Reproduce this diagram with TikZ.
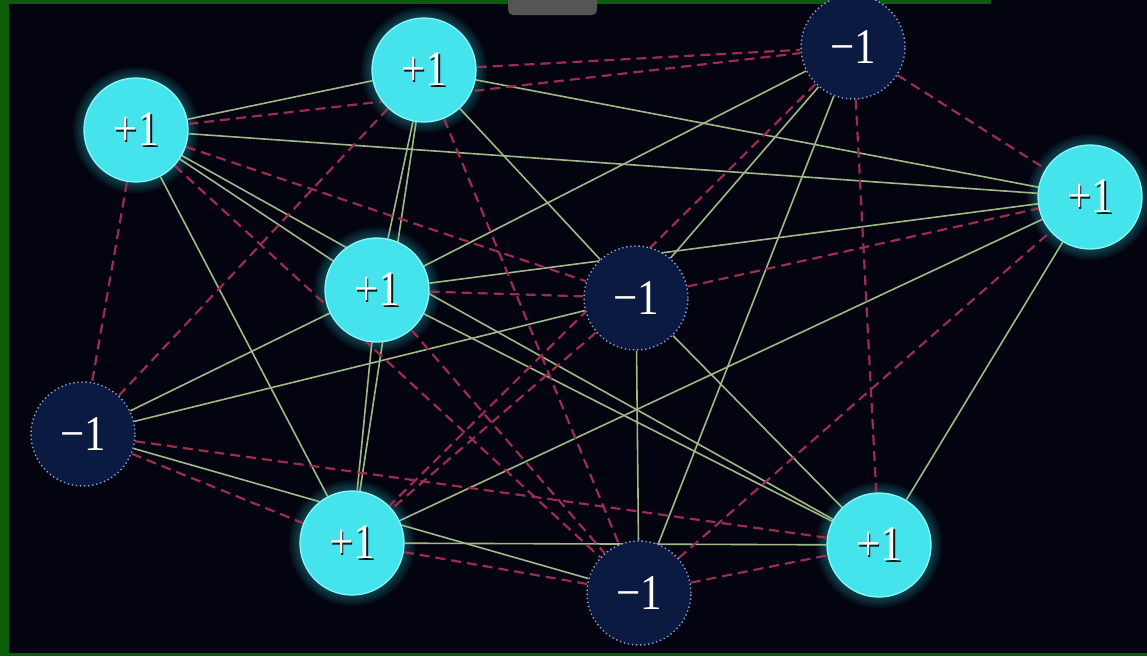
\documentclass[tikz,border=0pt]{standalone}
\usepackage{fontspec}
\usepackage{graphicx}
\newfontfamily\spinfam{Liberation Serif}
\definecolor{bgc}{HTML}{03040F}
\definecolor{framegreen}{HTML}{0B5C0B}
\definecolor{cyanfill}{HTML}{45E4EC}
\definecolor{cyanrim}{HTML}{8AF6FB}
\definecolor{glowc}{HTML}{2FD8E8}
\definecolor{navy}{HTML}{0A1A40}
\definecolor{dotc}{HTML}{93A4DA}
\definecolor{edgegreen}{HTML}{9FBA88}
\definecolor{edgered}{HTML}{9C2C52}
\definecolor{shadowc}{HTML}{0A1822}
\definecolor{tabgrey}{HTML}{555555}
\pgfdeclarelayer{back}
\pgfdeclarelayer{edges}
\pgfsetlayers{back,edges,main}
\newcommand\spinlbl[1]{\scalebox{0.86}[1]{#1}}
\newcommand\shlbl[1]{\rlap{\kern1.8pt\raisebox{-1.8pt}{\color{shadowc}\spinlbl{#1}}}\spinlbl{#1}}
\tikzset{
  spinfont/.style={font=\spinfam\fontsize{50}{50}\selectfont},
  posspin/.style={circle, minimum size=104pt, inner sep=0pt, fill=cyanfill, draw=cyanrim, line width=1.3pt, text=white, spinfont},
  negspin/.style={circle, minimum size=104pt, inner sep=0pt, fill=navy, draw=dotc, line width=1.4pt, dash pattern=on 1.3pt off 2.8pt, text=white, spinfont},
  pedge/.style={draw=edgegreen, line width=1.6pt},
  nedge/.style={draw=edgered, line width=2.2pt, dash pattern=on 10pt off 6pt},
}
\begin{document}
\begin{tikzpicture}[x=1pt,y=-1pt]
\useasboundingbox (0,0) rectangle (1147,656);
% nodes
\node[posspin] (A) at (136,130) {\shlbl{+1}};
\node[posspin] (B) at (424,70) {\shlbl{+1}};
\node[negspin] (C) at (853,47) {\spinlbl{−1}};
\node[posspin] (D) at (1090,197) {\shlbl{+1}};
\node[posspin] (E) at (377,290) {\shlbl{+1}};
\node[negspin] (F) at (636,298) {\spinlbl{−1}};
\node[negspin] (G) at (83,434) {\spinlbl{−1}};
\node[posspin] (H) at (352,543) {\shlbl{+1}};
\node[negspin] (I) at (639,593) {\spinlbl{−1}};
\node[posspin] (J) at (879,545) {\shlbl{+1}};
% background, frame, glow
\begin{pgfonlayer}{back}
\fill[bgc] (0,0) rectangle (1147,656);
\fill[framegreen] (0,0) rectangle (9,656);
\fill[framegreen] (0,0) rectangle (991,4);
\fill[framegreen] (0,653) rectangle (1147,656);
\fill[tabgrey, rounded corners=5pt] (508,-8) rectangle (597,15);
\foreach \n in {A,B,D,E,H,J}{
  \foreach \r in {53,55,...,63}{
    \fill[glowc, opacity=0.06] (\n.center) circle (\r pt);
  }
}
\end{pgfonlayer}
% edges
\begin{pgfonlayer}{edges}
\foreach \a/\b in {A/B, A/D, A/E, A/J, A/H, B/E, B/H, B/D, B/F, C/E, C/F, C/I, E/D, E/H, E/G, E/J, G/F, G/I, H/D, H/J, D/J, F/I, F/J}
  \draw[pedge] (\a) -- (\b);
\foreach \a/\b in {A/C, B/C, A/F, A/I, A/G, B/G, B/I, C/D, C/H, C/J, F/D, I/D, E/F, E/I, G/J, G/H, H/I, I/J, F/H}
  \draw[nedge] (\a) -- (\b);
\end{pgfonlayer}
\end{tikzpicture}
\end{document}
